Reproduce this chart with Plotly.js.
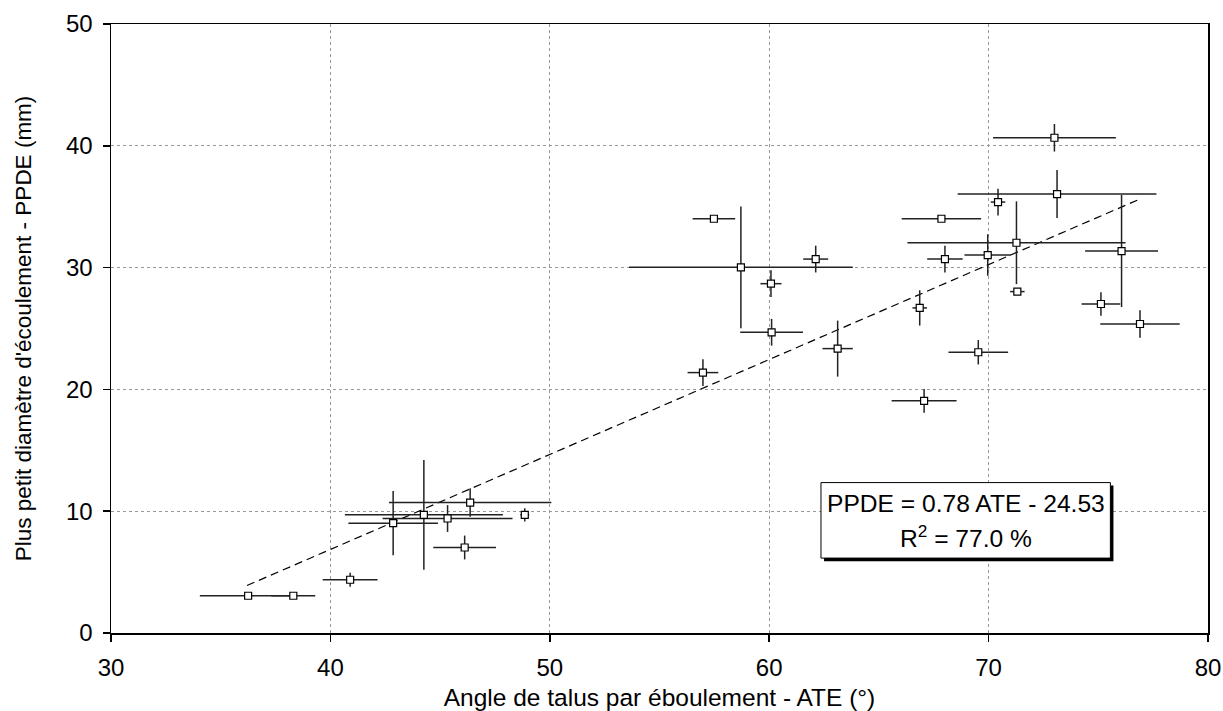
<!DOCTYPE html>
<html>
<head>
<meta charset="utf-8">
<script src="https://cdn.plot.ly/plotly-3.0.1.min.js"></script>
<style>html,body{margin:0;padding:0;background:#fff;}#chart{width:1223px;height:711px;}</style>
</head>
<body>
<div id="chart"></div>
<script>
// Angle de talus par éboulement (ATE, °)
var ate = [36.25, 38.31, 40.9, 42.86, 44.26, 45.34, 46.37, 48.86, 46.12, 56.98, 60.11, 63.12, 60.08, 57.48, 58.71, 62.12, 73.0, 73.12, 70.43, 67.85, 71.27, 69.96, 68.01, 76.06, 71.31, 75.12, 66.86, 76.9, 69.53, 67.06];
// Plus petit diamètre d'écoulement (PPDE, mm)
var ppde = [3.06, 3.06, 4.37, 9.02, 9.7, 9.4, 10.71, 9.7, 7.02, 21.38, 24.69, 23.35, 28.68, 34.01, 30.02, 30.7, 40.66, 36.04, 35.38, 34.01, 32.04, 31.03, 30.7, 31.36, 28.03, 27.01, 26.69, 25.37, 23.05, 19.06];
// uncertainties (±)
var errAte = [2.2, 1.0, 1.25, 2.04, 3.6, 2.96, 3.7, 0.2, 1.43, 0.7, 1.43, 0.69, 0.48, 0.97, 5.1, 0.57, 2.8, 4.53, 0.33, 1.81, 4.97, 1.06, 0.81, 1.66, 0.33, 0.88, 0.33, 1.81, 1.36, 1.48];
var errPpde = [0, 0, 0.57, 2.64, 4.5, 1.1, 1.17, 0.55, 0.98, 1.1, 1.1, 2.3, 1.1, 0, 5.0, 1.1, 1.13, 1.97, 1.1, 0, 3.4, 1.7, 1.1, 4.6, 0, 0.96, 1.45, 1.12, 1.0, 0.98];
// regression line endpoints
var trendX = [36.2, 76.8];
var trendY = [3.9, 35.55];
var eqText = "PPDE = 0.78 ATE - 24.53";
var r2Text = "R<sup>2</sup> = 77.0 %";
var xTicks = [30, 40, 50, 60, 70, 80];
var yTicks = [0, 10, 20, 30, 40, 50];

var FONT = "Liberation Sans, Arial, sans-serif";

var traces = [
  {
    x: trendX, y: trendY, type: "scatter", mode: "lines",
    line: {color: "#000", width: 1.2, dash: "8px,5px"},
    hoverinfo: "skip", showlegend: false
  },
  {
    x: ate, y: ppde, type: "scatter", mode: "markers",
    marker: {symbol: "square", size: 7, color: "#fff", line: {color: "#000", width: 1.2}},
    error_x: {type: "data", array: errAte, visible: true, color: "#222", thickness: 1.5, width: 0},
    error_y: {type: "data", array: errPpde, visible: true, color: "#222", thickness: 1.5, width: 0},
    showlegend: false
  }
];

var layout = {
  width: 1223, height: 711,
  margin: {l: 111, r: 15, t: 24, b: 78},
  paper_bgcolor: "#fff", plot_bgcolor: "#fff",
  font: {family: FONT, size: 24, color: "#000"},
  showlegend: false,
  xaxis: {
    range: [30, 80], tickvals: xTicks, ticktext: xTicks.map(String),
    showgrid: true, gridcolor: "#999", griddash: "dot", gridwidth: 1,
    zeroline: false, showline: true, linecolor: "#000", linewidth: 1.5, mirror: true,
    ticks: "outside", ticklen: 7, tickcolor: "#000", tickwidth: 1.5,
    tickfont: {family: FONT, size: 24},
    ticklabelstandoff: 6,
    title: {text: "Angle de talus par éboulement - ATE (°)", font: {family: FONT, size: 24.5}, standoff: 12},
    automargin: false
  },
  yaxis: {
    range: [0, 50], tickvals: yTicks, ticktext: yTicks.map(String),
    showgrid: true, gridcolor: "#999", griddash: "dot", gridwidth: 1,
    zeroline: false, showline: true, linecolor: "#000", linewidth: 1.5, mirror: true,
    ticks: "outside", ticklen: 7, tickcolor: "#000", tickwidth: 1.5,
    tickfont: {family: FONT, size: 24},
    ticklabelstandoff: 5,
    title: {text: "Plus petit diamètre d'écoulement - PPDE (mm)", font: {family: FONT, size: 22.5}, standoff: 28},
    automargin: false
  },
  shapes: [
    {type: "rect", xref: "x", yref: "y", x0: 62.5, x1: 75.69, y0: 5.9, y1: 12.1,
     fillcolor: "#000", line: {width: 0}, layer: "above"},
    {type: "rect", xref: "x", yref: "y", x0: 62.36, x1: 75.55, y0: 6.15, y1: 12.35,
     fillcolor: "#fff", line: {color: "#000", width: 1}, layer: "above"}
  ],
  annotations: [
    {x: 68.96, y: 10.66, xref: "x", yref: "y", text: eqText, showarrow: false,
     font: {family: FONT, size: 24.6, color: "#000"}},
    {x: 68.96, y: 7.92, xref: "x", yref: "y", text: r2Text, showarrow: false,
     font: {family: FONT, size: 24.6, color: "#000"}}
  ]
};

Plotly.newPlot("chart", traces, layout, {displayModeBar: false, staticPlot: true});
</script>
</body>
</html>
